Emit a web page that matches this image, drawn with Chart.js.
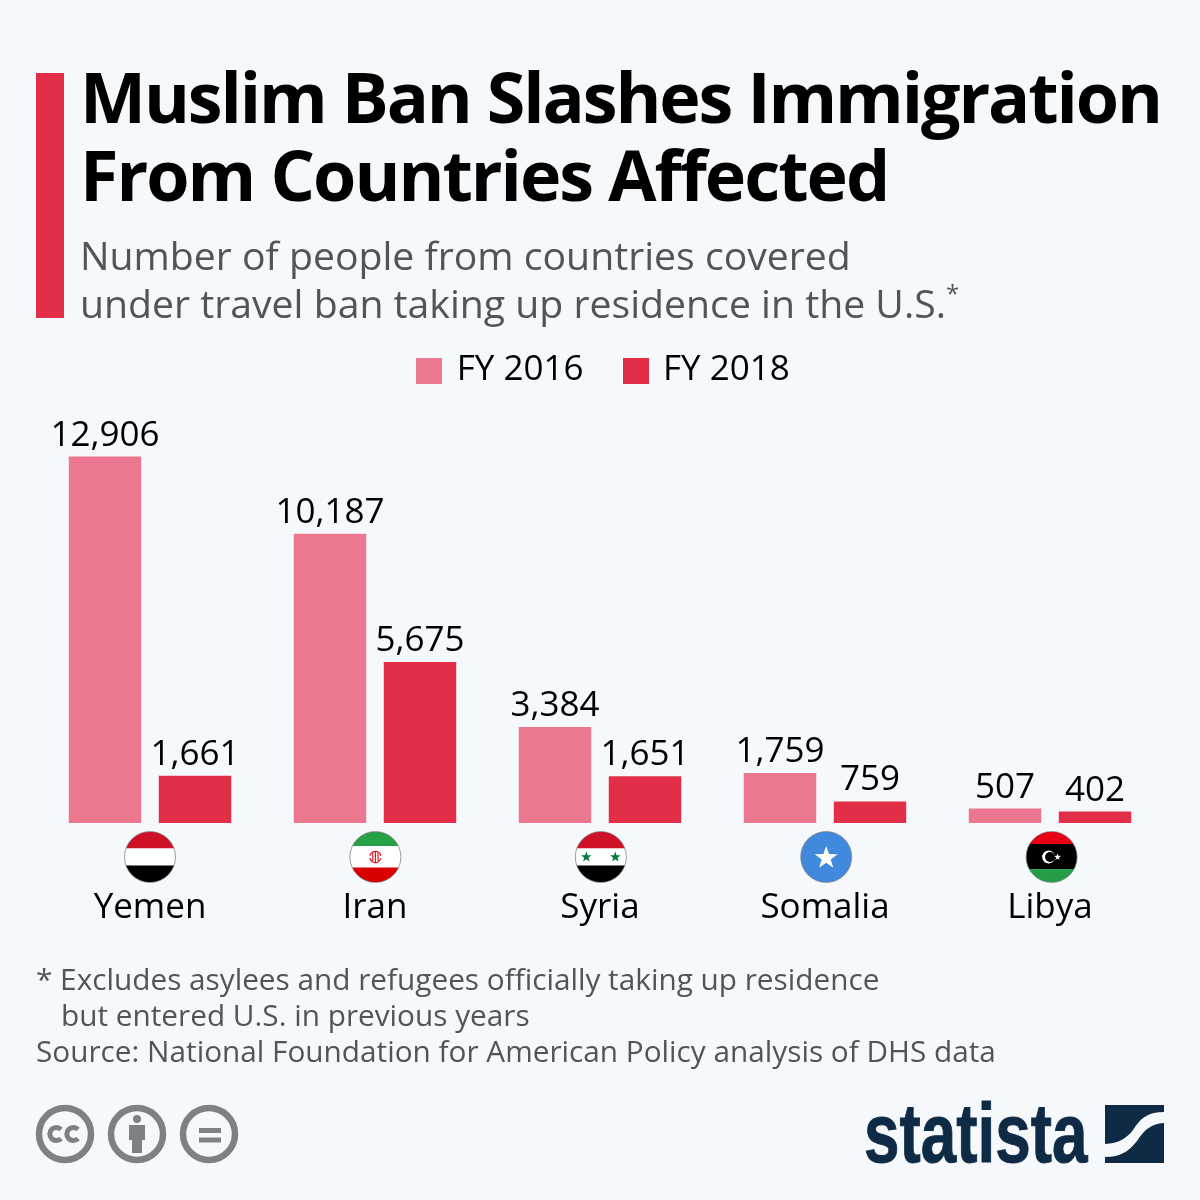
<!DOCTYPE html>
<html><head><meta charset="utf-8">
<script src="https://cdn.jsdelivr.net/npm/chart.js@4"></script>
<style>
html,body{margin:0;padding:0;background:#f5f9fc;width:1200px;height:1200px;overflow:hidden}
#wrap{position:relative;width:1200px;height:1200px;font-family:"Open Sans",sans-serif}
canvas{position:absolute;left:0;top:0}
.t{position:absolute;white-space:nowrap;line-height:1}
</style></head><body>
<div id="wrap">
<canvas id="c" width="1200" height="1200"></canvas>
<div style="position:absolute;left:36px;top:73px;width:28px;height:245px;background:#e22e47"></div>
<div class="t" id="t1" style="left:80px;top:61px;font-size:70px;font-weight:700;letter-spacing:-2.1px;color:#000">Muslim Ban Slashes Immigration</div>
<div class="t" id="t2" style="left:80px;top:139px;font-size:70px;font-weight:700;letter-spacing:-2.0px;color:#000">From Countries Affected</div>
<div class="t" style="left:80px;top:234.5px;font-size:39.2px;color:#4e5658">Number of people from countries covered</div>
<div class="t" style="left:80px;top:282.5px;font-size:39.2px;color:#4e5658">under travel ban taking up residence in the U.S.<span style="font-size:24px;position:relative;top:-16px">*</span></div>
<div class="t" style="left:36px;top:964px;font-size:29.75px;color:#4e5658">* Excludes asylees and refugees officially taking up residence</div>
<div class="t" style="left:61px;top:1000px;font-size:29.75px;color:#4e5658">but entered U.S. in previous years</div>
<div class="t" style="left:36px;top:1036px;font-size:29.75px;color:#4e5658">Source: National Foundation for American Policy analysis of DHS data</div>
<svg style="position:absolute;left:0;top:1090px" width="260" height="90" viewBox="0 1090 260 90">
<g fill="none" stroke="#7c8282" stroke-width="6.5">
<circle cx="65" cy="1134" r="26"/><circle cx="137" cy="1134" r="26"/><circle cx="209" cy="1134" r="26"/></g>
<g fill="none" stroke="#7c8282" stroke-width="5">
<path d="M61 1129.5a6.5 6.5 0 1 0 0 9"/><path d="M78 1129.5a6.5 6.5 0 1 0 0 9"/></g>
<g fill="#7c8282"><circle cx="137" cy="1119" r="4"/><rect x="129" y="1125" width="16" height="15"/><rect x="132" y="1139" width="10" height="14"/>
<rect x="199" y="1128" width="22" height="5"/><rect x="199" y="1137.5" width="22" height="5"/></g>
</svg>
<div class="t" id="logo" style="left:864px;top:1091px;font-family:'Liberation Sans';font-weight:700;font-size:84px;color:#0f2a44;-webkit-text-stroke:1px #0f2a44;transform-origin:left top;transform:scaleX(.76)">statista</div>
<svg style="position:absolute;left:1105px;top:1105px" width="59" height="59" viewBox="0 0 59 59">
<path fill="#0f2a44" d="M0 0H59V7C44 7 36 12 28 25C21 34 14 38 0 39Z"/>
<path fill="#0f2a44" d="M59 18V58H0V52C16 52 24 46 32 36C40 24 46 19 59 18Z"/>
</svg>
</div>
<script>
const countries = ["Yemen","Iran","Syria","Somalia","Libya"];
const fy2016 = [12906,10187,3384,1759,507];
const fy2018 = [1661,5675,1651,759,402];
const seriesNames = ["FY 2016","FY 2018"];
const seriesColors = ["#ec7890","#e22e47"];

function swatch(color){
  const s=document.createElement("canvas");s.width=26;s.height=26;
  const g=s.getContext("2d");g.fillStyle=color;g.fillRect(0,0,26,26);return s;
}
const swatches=seriesColors.map(swatch);
function clipCircle(ctx,x,y,r,draw){
  ctx.save();ctx.beginPath();ctx.arc(x,y,r,0,Math.PI*2);ctx.clip();draw();ctx.restore();
  ctx.save();ctx.beginPath();ctx.arc(x,y,r,0,Math.PI*2);ctx.strokeStyle="rgba(120,120,120,.7)";ctx.lineWidth=1;ctx.stroke();ctx.restore();
}
function star(ctx,x,y,r,c){
  ctx.fillStyle=c;ctx.beginPath();
  for(let i=0;i<10;i++){const a=-Math.PI/2+i*Math.PI/5,q=i%2?r*.4:r;ctx.lineTo(x+q*Math.cos(a),y+q*Math.sin(a));}
  ctx.closePath();ctx.fill();
}
function bands(ctx,x,y,r,list){
  for(const [c,a,b] of list){ctx.fillStyle=c;ctx.fillRect(x-r,y-r+a,2*r,b-a);}
}
const flags={
  Yemen(ctx,x,y,r){bands(ctx,x,y,r,[["#ce1126",0,17],["#fff",17,34],["#000",34,51]]);},
  Iran(ctx,x,y,r){bands(ctx,x,y,r,[["#26a146",0,14.5],["#fff",14.5,36],["#da0000",36,51]]);
    ctx.strokeStyle="#e0141c";ctx.lineWidth=1.2;ctx.beginPath();ctx.arc(x,y,5.6,0.2,Math.PI-0.2);ctx.stroke();
    ctx.beginPath();ctx.arc(x,y,5.6,Math.PI+0.2,-0.2);ctx.stroke();
    ctx.beginPath();ctx.moveTo(x,y-6);ctx.lineTo(x,y+6);ctx.moveTo(x-2.6,y-4.5);ctx.lineTo(x-2.6,y+4);ctx.moveTo(x+2.6,y-4.5);ctx.lineTo(x+2.6,y+4);ctx.stroke();},
  Syria(ctx,x,y,r){bands(ctx,x,y,r,[["#ce1126",0,17],["#fff",17,34],["#000",34,51]]);
    star(ctx,x-14.5,y,5.5,"#007a3d");star(ctx,x+14.5,y,5.5,"#007a3d");},
  Somalia(ctx,x,y,r){bands(ctx,x,y,r,[["#4189dd",0,51]]);star(ctx,x,y+1,12,"#fff");},
  Libya(ctx,x,y,r){bands(ctx,x,y,r,[["#e70013",0,12.5],["#000",12.5,37.6],["#239e46",37.6,51]]);
    ctx.fillStyle="#fff";ctx.beginPath();ctx.arc(x-3,y,6.5,0,Math.PI*2);ctx.fill();
    ctx.fillStyle="#000";ctx.beginPath();ctx.arc(x-1.5,y,5,0,Math.PI*2);ctx.fill();
    star(ctx,x+6,y,3.6,"#fff");}
};
const overlay={
  id:"overlay",
  afterLayout(chart){chart.legend.left+=4.5;chart.legend.right+=4.5;},
  afterDatasetsDraw(chart){
    const ctx=chart.ctx;
    ctx.save();
    ctx.font='35px "Open Sans"';ctx.fillStyle="#000";ctx.textAlign="center";ctx.textBaseline="alphabetic";
    chart.data.datasets.forEach((ds,i)=>{
      chart.getDatasetMeta(i).data.forEach((el,j)=>{
        ctx.fillText(ds.data[j].toLocaleString("en-US"),el.x,el.y-11);
      });
    });
    ctx.restore();
    const xs=chart.scales.x, base=chart.chartArea.bottom;
    countries.forEach((n,i)=>{
      const x=xs.getPixelForValue(i)+0.4*i,y=base+34,r=25.5;
      clipCircle(ctx,x,y,r,()=>flags[n](ctx,x,y,r));
    });
  }
};
new Chart(document.getElementById("c"),{
  type:"bar",
  data:{labels:countries,datasets:[
    {label:seriesNames[0],data:fy2016,backgroundColor:seriesColors[0]},
    {label:seriesNames[1],data:fy2018,backgroundColor:seriesColors[1]}
  ]},
  plugins:[overlay],
  options:{
    responsive:false,animation:false,devicePixelRatio:1,
    layout:{padding:{left:37.5,right:37.5,top:311,bottom:0}},
    datasets:{bar:{categoryPercentage:0.8,barPercentage:0.805}},
    plugins:{
      tooltip:{enabled:false},
      title:{display:false},
      legend:{position:"top",align:"center",
        labels:{usePointStyle:true,pointStyleWidth:20,boxHeight:26,padding:42,color:"#000",font:{family:'"Open Sans"',size:35},
          generateLabels(chart){
            return Chart.defaults.plugins.legend.labels.generateLabels(chart).map((l,i)=>({...l,pointStyle:swatches[i]}));
          }}}
    },
    scales:{
      x:{grid:{display:false},border:{display:false},
        ticks:{color:"#000",padding:56,maxRotation:0,font:{family:'"Open Sans"',size:35}},
        afterFit(s){s.height=377;}},
      y:{display:false,beginAtZero:true,min:0,max:14970}
    }
  }
});
</script>
</body></html>
